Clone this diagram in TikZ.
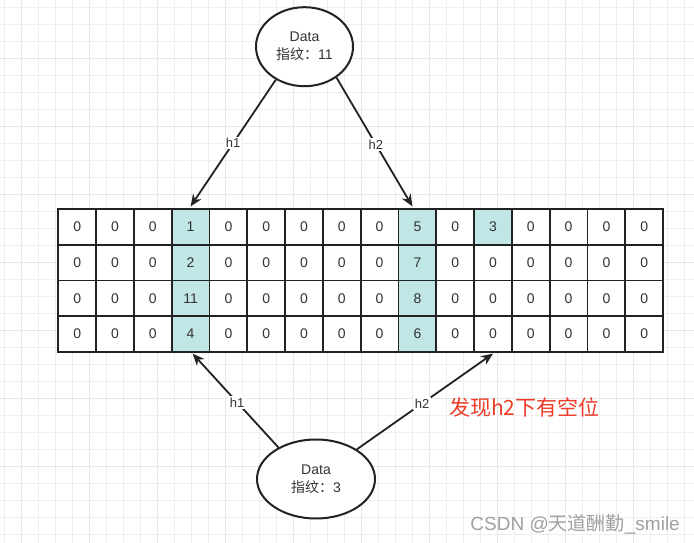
\documentclass[tikz,border=0pt]{standalone}
\usepackage{fontspec}
\setmainfont{Liberation Sans}
\newfontfamily\cjk{Noto Sans CJK SC}
\usetikzlibrary{shapes.geometric,arrows.meta}
\definecolor{gridminor}{RGB}{238,238,238}
\definecolor{gridmajor}{RGB}{231,231,231}
\definecolor{inkc}{RGB}{34,34,34}
\definecolor{textc}{RGB}{51,51,51}
\definecolor{hfill}{RGB}{192,230,230}
\definecolor{redc}{RGB}{236,60,40}
\definecolor{wmc}{RGB}{160,160,160}
\tikzset{
  cell/.style={draw=inkc, line width=1.8pt, fill=white, minimum width=37.8pt, minimum height=35.6pt, inner sep=0pt, text=textc, font=\fontsize{14}{16}\selectfont},
  hcell/.style={cell, fill=hfill},
  dataell/.style={draw=inkc, line width=2pt, ellipse, fill=white, inner sep=0pt, align=center, text=textc, font=\fontsize{14}{18}\selectfont},
  link/.style={draw=inkc, line width=1.8pt, -{Stealth[length=12pt,width=10pt]}},
  hlab/.style={fill=white, inner sep=1.5pt, text=textc, font=\fontsize{13}{15}\selectfont}
}
\begin{document}
\begin{tikzpicture}[x=1pt,y=-1pt]
\useasboundingbox (0,0) rectangle (694,543);
\fill[white] (0,0) rectangle (694,543);
% background grid
\foreach \k in {0,...,40}{
  \draw[gridminor, line width=0.9pt] ({4+17*\k},0) -- ({4+17*\k},543);
}
\foreach \k in {0,...,31}{
  \draw[gridminor, line width=0.9pt] (0,{7.3+17*\k}) -- (694,{7.3+17*\k});
}
\foreach \k in {0,...,10}{
  \draw[gridmajor, line width=1pt] ({21+68*\k},0) -- ({21+68*\k},543);
}
\foreach \k in {0,...,7}{
  \draw[gridmajor, line width=1pt] (0,{58.3+68*\k-68}) -- (694,{58.3+68*\k-68});
}
% table
\foreach \r in {1,...,4}{
  \foreach \c in {1,...,16}{
    \def\sty{cell}\def\val{0}
    \ifnum\c=4 \def\sty{hcell}\edef\val{\ifcase\r\or1\or2\or11\or4\fi}\fi
    \ifnum\c=10 \def\sty{hcell}\edef\val{\ifcase\r\or5\or7\or8\or6\fi}\fi
    \ifnum\c=12 \ifnum\r=1 \def\sty{hcell}\def\val{3}\fi\fi
    \node[\sty] (c-\r-\c) at ({58.3+37.8*(\c-0.5)},{209.3+35.6*(\r-0.5)}) {\val};
  }
}
% ellipses
\node[dataell, minimum width=97pt, minimum height=79pt] (top) at (304.5,46.7) {Data\\{\cjk 指纹：}11};
\node[dataell, minimum width=118pt, minimum height=79pt] (bot) at (316,479) {Data\\{\cjk 指纹：}3};
% arrows
\draw[link] (top.229) -- node[hlab, pos=0.5] {h1} ([yshift=2pt]c-1-4.north);
\draw[link] (top.316) -- node[hlab, pos=0.52] {h2} ([xshift=-5pt,yshift=2pt]c-1-10.north);
\draw[link] (bot.140) -- node[hlab, pos=0.48] {h1} ([xshift=2pt,yshift=-1pt]c-4-4.south);
\draw[link] (bot.36) -- node[hlab, pos=0.48] {h2} ([yshift=-1pt]c-4-12.south);
% annotation
\node[anchor=west, text=redc, inner sep=0pt, font=\cjk\fontsize{21}{24}\selectfont] (note) at (449,407) {发现h2下有空位};
\node[anchor=east, text=wmc, inner sep=0pt, font=\fontsize{19}{21}\selectfont] (wm) at (680,524) {CSDN @{\cjk 天道酬勤}\_smile};
\end{tikzpicture}
\end{document}
